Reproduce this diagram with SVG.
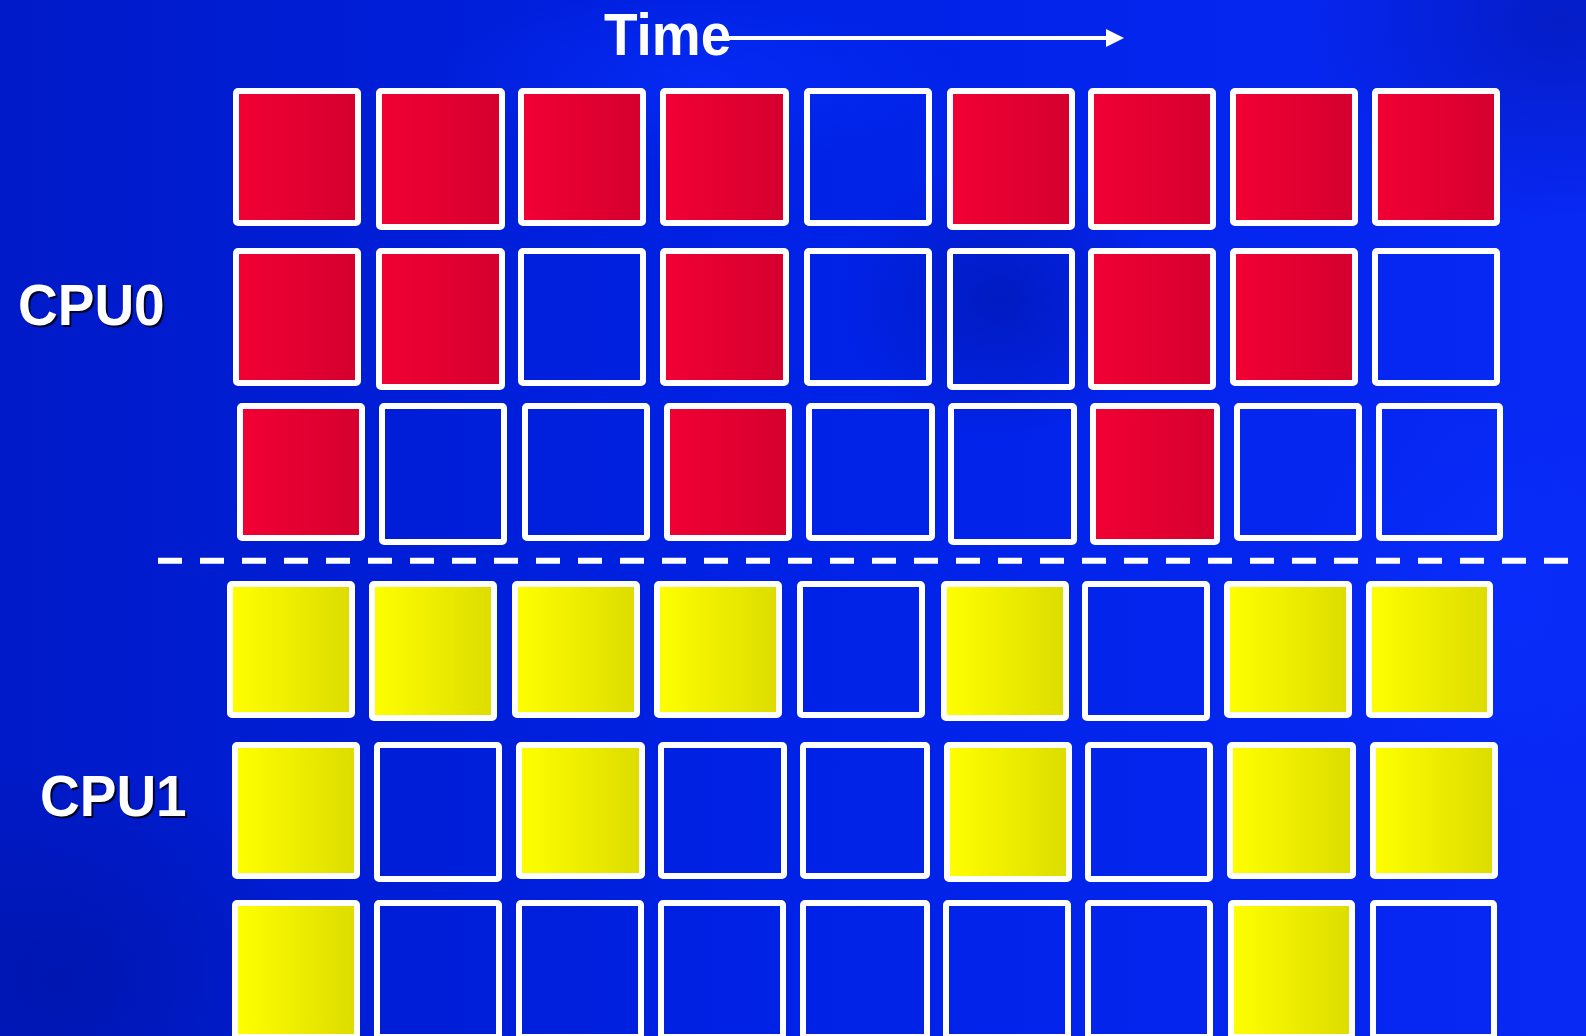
<svg xmlns="http://www.w3.org/2000/svg" width="1586" height="1036" viewBox="0 0 1586 1036">
<defs>
<linearGradient id="bg" x1="0" y1="0" x2="1" y2="0">
<stop offset="0" stop-color="#001ac8"/>
<stop offset="0.5" stop-color="#0022e6"/>
<stop offset="1" stop-color="#0828f4"/>
</linearGradient>
<radialGradient id="dk1" cx="0.5" cy="0.5" r="0.5">
<stop offset="0" stop-color="#001090" stop-opacity="0.45"/>
<stop offset="1" stop-color="#001090" stop-opacity="0"/>
</radialGradient>
<radialGradient id="lt1" cx="0.5" cy="0.5" r="0.5">
<stop offset="0" stop-color="#0a30ff" stop-opacity="0.6"/>
<stop offset="1" stop-color="#0a30ff" stop-opacity="0"/>
</radialGradient>
<linearGradient id="red" x1="0" y1="0" x2="1" y2="0">
<stop offset="0" stop-color="#f20034"/>
<stop offset="1" stop-color="#d4002e"/>
</linearGradient>
<linearGradient id="yel" x1="0" y1="0" x2="1" y2="0">
<stop offset="0" stop-color="#ffff00"/>
<stop offset="1" stop-color="#dcdc00"/>
</linearGradient>
<marker id="ah" markerUnits="userSpaceOnUse" markerWidth="20" markerHeight="20" refX="0" refY="9" orient="auto">
<path d="M0,0 L18,9 L0,18 Z" fill="#ffffff"/>
</marker>
<style>
.sq{stroke:#ffffff;stroke-width:6;}
.r{fill:url(#red);}
.y{fill:url(#yel);}
.b{fill:none;}
.lbl{font-family:"Liberation Sans",Arial,sans-serif;font-weight:bold;font-size:55px;}
.sh{fill:#000000;fill-opacity:0.8;}
.wt{fill:#ffffff;}
.dash{stroke:#ffffff;stroke-width:6;stroke-dasharray:24 18;fill:none;}
</style>
</defs>
<rect x="0" y="0" width="1586" height="1036" fill="url(#bg)"/>
<ellipse cx="1560" cy="20" rx="260" ry="200" fill="url(#dk1)"/>
<ellipse cx="60" cy="980" rx="260" ry="220" fill="url(#dk1)"/>
<ellipse cx="1000" cy="300" rx="160" ry="140" fill="url(#dk1)"/>
<ellipse cx="1500" cy="600" rx="200" ry="220" fill="url(#lt1)"/>
<ellipse cx="700" cy="80" rx="260" ry="90" fill="url(#lt1)"/>

<g id="time-label">
<text class="lbl wt" x="604" y="51" transform="scale(1,1.08)" style="font-size:55px">Time</text>
</g>
<g id="connectors">
<line x1="726" y1="38" x2="1106" y2="38" stroke="#ffffff" stroke-width="4" marker-end="url(#ah)"/>
<line class="dash" x1="158" y1="560.7" x2="1569" y2="560.7"/>
</g>
<g id="cpu0-label">
<text class="lbl sh" x="20" y="313" transform="scale(1,1.045)">CPU0</text>
<text class="lbl wt" x="18" y="311" transform="scale(1,1.045)">CPU0</text>
</g>
<g id="cpu1-label">
<text class="lbl sh" x="42" y="787" transform="scale(1,1.04)">CPU1</text>
<text class="lbl wt" x="40" y="785" transform="scale(1,1.04)">CPU1</text>
</g>

<g id="row1">
<g id="r1c1"><rect class="sq r" x="236" y="91" width="122" height="132" rx="2"/></g>
<g id="r1c2"><rect class="sq r" x="379" y="91" width="123" height="136" rx="2"/></g>
<g id="r1c3"><rect class="sq r" x="521" y="91" width="122" height="132" rx="2"/></g>
<g id="r1c4"><rect class="sq r" x="663" y="91" width="123" height="132" rx="2"/></g>
<g id="r1c5"><rect class="sq b" x="807" y="91" width="122" height="132" rx="2"/></g>
<g id="r1c6"><rect class="sq r" x="950" y="91" width="122" height="136" rx="2"/></g>
<g id="r1c7"><rect class="sq r" x="1091" y="91" width="122" height="136" rx="2"/></g>
<g id="r1c8"><rect class="sq r" x="1233" y="91" width="122" height="132" rx="2"/></g>
<g id="r1c9"><rect class="sq r" x="1375" y="91" width="122" height="132" rx="2"/></g>
</g>
<g id="row2">
<g id="r2c1"><rect class="sq r" x="236" y="251" width="122" height="132" rx="2"/></g>
<g id="r2c2"><rect class="sq r" x="379" y="251" width="123" height="136" rx="2"/></g>
<g id="r2c3"><rect class="sq b" x="521" y="251" width="122" height="132" rx="2"/></g>
<g id="r2c4"><rect class="sq r" x="663" y="251" width="123" height="132" rx="2"/></g>
<g id="r2c5"><rect class="sq b" x="807" y="251" width="122" height="132" rx="2"/></g>
<g id="r2c6"><rect class="sq b" x="950" y="251" width="122" height="136" rx="2"/></g>
<g id="r2c7"><rect class="sq r" x="1091" y="251" width="122" height="136" rx="2"/></g>
<g id="r2c8"><rect class="sq r" x="1233" y="251" width="122" height="132" rx="2"/></g>
<g id="r2c9"><rect class="sq b" x="1375" y="251" width="122" height="132" rx="2"/></g>
</g>
<g id="row3">
<g id="r3c1"><rect class="sq r" x="240" y="406" width="122" height="132" rx="2"/></g>
<g id="r3c2"><rect class="sq b" x="382" y="406" width="122" height="136" rx="2"/></g>
<g id="r3c3"><rect class="sq b" x="525" y="406" width="122" height="132" rx="2"/></g>
<g id="r3c4"><rect class="sq r" x="667" y="406" width="122" height="132" rx="2"/></g>
<g id="r3c5"><rect class="sq b" x="809" y="406" width="123" height="132" rx="2"/></g>
<g id="r3c6"><rect class="sq b" x="951" y="406" width="123" height="136" rx="2"/></g>
<g id="r3c7"><rect class="sq r" x="1093" y="406" width="124" height="136" rx="2"/></g>
<g id="r3c8"><rect class="sq b" x="1237" y="406" width="122" height="132" rx="2"/></g>
<g id="r3c9"><rect class="sq b" x="1379" y="406" width="121" height="132" rx="2"/></g>
</g>
<g id="row4">
<g id="r4c1"><rect class="sq y" x="230" y="584" width="122" height="131" rx="2"/></g>
<g id="r4c2"><rect class="sq y" x="372" y="584" width="122" height="134" rx="2"/></g>
<g id="r4c3"><rect class="sq y" x="515" y="584" width="122" height="131" rx="2"/></g>
<g id="r4c4"><rect class="sq y" x="657" y="584" width="122" height="131" rx="2"/></g>
<g id="r4c5"><rect class="sq b" x="800" y="584" width="122" height="131" rx="2"/></g>
<g id="r4c6"><rect class="sq y" x="944" y="584" width="122" height="134" rx="2"/></g>
<g id="r4c7"><rect class="sq b" x="1085" y="584" width="122" height="134" rx="2"/></g>
<g id="r4c8"><rect class="sq y" x="1227" y="584" width="122" height="131" rx="2"/></g>
<g id="r4c9"><rect class="sq y" x="1369" y="584" width="121" height="131" rx="2"/></g>
</g>
<g id="row5">
<g id="r5c1"><rect class="sq y" x="235" y="745" width="122" height="131" rx="2"/></g>
<g id="r5c2"><rect class="sq b" x="377" y="745" width="122" height="134" rx="2"/></g>
<g id="r5c3"><rect class="sq y" x="519" y="745" width="123" height="131" rx="2"/></g>
<g id="r5c4"><rect class="sq b" x="661" y="745" width="123" height="131" rx="2"/></g>
<g id="r5c5"><rect class="sq b" x="803" y="745" width="124" height="131" rx="2"/></g>
<g id="r5c6"><rect class="sq y" x="947" y="745" width="122" height="134" rx="2"/></g>
<g id="r5c7"><rect class="sq b" x="1088" y="745" width="122" height="134" rx="2"/></g>
<g id="r5c8"><rect class="sq y" x="1230" y="745" width="123" height="131" rx="2"/></g>
<g id="r5c9"><rect class="sq y" x="1373" y="745" width="122" height="131" rx="2"/></g>
</g>
<g id="row6">
<g id="r6c1"><rect class="sq y" x="235" y="903" width="122" height="134" rx="2"/></g>
<g id="r6c2"><rect class="sq b" x="377" y="903" width="122" height="134" rx="2"/></g>
<g id="r6c3"><rect class="sq b" x="519" y="903" width="122" height="134" rx="2"/></g>
<g id="r6c4"><rect class="sq b" x="661" y="903" width="122" height="134" rx="2"/></g>
<g id="r6c5"><rect class="sq b" x="803" y="903" width="124" height="134" rx="2"/></g>
<g id="r6c6"><rect class="sq b" x="946" y="903" width="122" height="134" rx="2"/></g>
<g id="r6c7"><rect class="sq b" x="1088" y="903" width="122" height="134" rx="2"/></g>
<g id="r6c8"><rect class="sq y" x="1231" y="903" width="121" height="134" rx="2"/></g>
<g id="r6c9"><rect class="sq b" x="1373" y="903" width="121" height="134" rx="2"/></g>
</g>
</svg>
